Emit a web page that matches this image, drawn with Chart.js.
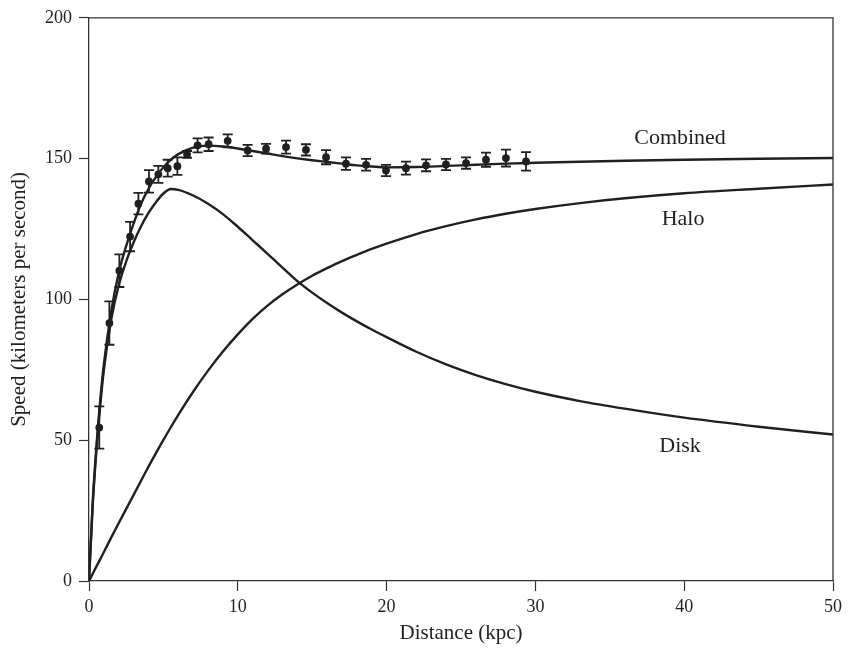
<!DOCTYPE html>
<html>
<head>
<meta charset="utf-8">
<script src="https://cdn.jsdelivr.net/npm/chart.js@4"></script>
<style>
  html, body { margin: 0; padding: 0; background: #fff; }
  #wrap { width: 848px; height: 652px; }
</style>
</head>
<body>
<div id="wrap"><canvas id="rotation"></canvas></div>
<script>
// Radien der Modellkurven (kpc)
const curveR = [0, 0.25, 0.5, 0.75, 1, 1.5, 2, 2.5, 3, 3.5, 4, 4.5, 5, 5.5, 6, 7, 8, 9, 10, 11, 12, 13, 14, 15, 16, 17, 18, 19, 20, 22, 24, 26, 28, 30, 33, 36, 40, 45, 50];
const diskSpeed = [0, 27, 46.5, 62, 75, 93, 105, 113.5, 120.3, 126, 130.7, 134.5, 137.6, 139.2, 138.9, 136.9, 134.0, 130.3, 125.8, 121.0, 116.2, 111.3, 106.5, 102.4, 98.7, 95.3, 92.2, 89.3, 86.6, 81.4, 76.9, 73.1, 69.9, 67.2, 63.9, 61.2, 58.0, 54.8, 52.0];
const haloSpeed = [0, 2.6, 5.2, 7.7, 10.3, 15.5, 20.6, 25.6, 30.6, 35.6, 40.6, 45.4, 50.1, 54.6, 59.0, 67.2, 74.7, 81.5, 87.6, 93.1, 97.8, 101.8, 105.3, 108.4, 111.1, 113.6, 115.8, 117.9, 119.8, 123.2, 126.0, 128.4, 130.4, 132.1, 134.2, 135.9, 137.7, 139.3, 140.8];
const combinedSpeed = [0, 28, 48, 64, 77, 96, 109.5, 119, 127, 134, 139.3, 143.5, 146.9, 149.6, 151.6, 153.9, 154.6, 154.3, 153.6, 152.7, 151.8, 150.9, 150.1, 149.4, 148.8, 148.2, 147.6, 147.2, 146.9, 147.0, 147.4, 147.8, 148.2, 148.5, 148.9, 149.25, 149.6, 149.95, 150.2];

// Messpunkte mit Fehlerbalken
const obsR = [0.69, 1.37, 2.04, 2.76, 3.32, 4.03, 4.66, 5.29, 5.94, 6.59, 7.3, 8.04, 9.32, 10.66, 11.9, 13.24, 14.58, 15.93, 17.27, 18.62, 19.96, 21.3, 22.65, 23.99, 25.34, 26.68, 28.02, 29.37];
const obsSpeed = [54.5, 91.6, 110.2, 122.3, 134.0, 141.9, 144.4, 146.6, 147.3, 151.5, 154.7, 155.1, 156.3, 152.9, 153.5, 154.1, 153.1, 150.5, 148.2, 147.8, 145.8, 146.6, 147.6, 147.9, 148.4, 149.6, 150.2, 149.0];
const obsErr = [7.5, 7.7, 5.8, 5.2, 3.8, 4.0, 3.0, 3.0, 3.1, 1.2, 2.5, 2.4, 2.3, 2.0, 1.7, 2.3, 2.0, 2.5, 2.2, 2.1, 2.0, 2.3, 2.1, 2.0, 2.0, 2.5, 3.0, 3.3];

// Achsen
const xTicks = [0, 10, 20, 30, 40, 50];
const yTicks = [0, 50, 100, 150, 200];

// Kurvenbeschriftungen
const curveNames = ['Combined', 'Halo', 'Disk'];
const curveNameR = [39.72, 39.92, 39.72];
const curveNameSpeed = [157.2, 128.3, 47.7];

const ink = '#231f20';
const serif = 'Liberation Serif';

const toXY = (xs, ys) => xs.map((x, i) => ({ x: x, y: ys[i] }));

function curve(label, values) {
    return {
        label: label,
        data: toXY(curveR, values),
        borderColor: ink,
        borderWidth: 2.4,
        pointRadius: 0,
        cubicInterpolationMode: 'monotone',
        fill: false
    };
}

// Fehlerbalken zeichnen
const errorBars = {
    id: 'errorBars',
    afterDatasetsDraw(chart) {
        const { ctx, scales: { x, y } } = chart;
        ctx.save();
        ctx.strokeStyle = ink;
        ctx.lineWidth = 1.8;
        obsR.forEach((r, i) => {
            const px = x.getPixelForValue(r);
            const top = y.getPixelForValue(obsSpeed[i] + obsErr[i]);
            const bot = y.getPixelForValue(obsSpeed[i] - obsErr[i]);
            ctx.beginPath();
            ctx.moveTo(px, top); ctx.lineTo(px, bot);
            ctx.moveTo(px - 5, top); ctx.lineTo(px + 5, top);
            ctx.moveTo(px - 5, bot); ctx.lineTo(px + 5, bot);
            ctx.stroke();
        });
        ctx.restore();
    }
};

// Rahmen oben/rechts und Beschriftungen
const frameAndNames = {
    id: 'frameAndNames',
    afterDraw(chart) {
        const { ctx, chartArea: a, scales: { x, y } } = chart;
        ctx.save();
        ctx.strokeStyle = '#333';
        ctx.lineWidth = 1.3;
        ctx.beginPath();
        ctx.moveTo(a.left, a.top); ctx.lineTo(a.right, a.top); ctx.lineTo(a.right, a.bottom);
        ctx.stroke();
        ctx.fillStyle = ink;
        ctx.font = '22px "' + serif + '"';
        ctx.textAlign = 'center';
        ctx.textBaseline = 'middle';
        curveNames.forEach((t, i) => {
            ctx.fillText(t, x.getPixelForValue(curveNameR[i]), y.getPixelForValue(curveNameSpeed[i]));
        });
        ctx.restore();
    }
};

new Chart(document.getElementById('rotation'), {
    type: 'line',
    data: {
        datasets: [
            curve('Combined', combinedSpeed),
            curve('Halo', haloSpeed),
            curve('Disk', diskSpeed),
            {
                label: 'Messwerte',
                data: toXY(obsR, obsSpeed),
                showLine: false,
                pointRadius: 3.9,
                pointBackgroundColor: ink,
                pointBorderWidth: 0
            }
        ]
    },
    options: {
        responsive: true,
        maintainAspectRatio: false,
        animation: false,
        layout: { padding: { top: 11, right: 15, left: 0, bottom: 0 } },
        plugins: { legend: { display: false }, tooltip: { enabled: false } },
        scales: {
            x: {
                type: 'linear',
                min: 0,
                max: 50,
                afterBuildTicks: s => { s.ticks = xTicks.map(v => ({ value: v })); },
                afterFit: s => { s.height = 71; },
                ticks: { color: ink, padding: 5, font: { family: serif, size: 18 } },
                grid: { drawOnChartArea: false, tickLength: 10, tickColor: '#333', tickWidth: 1.2 },
                border: { color: '#333', width: 1.3 },
                title: { display: true, text: 'Distance (kpc)', color: ink, font: { family: serif, size: 21 }, padding: { top: 0, bottom: 6 } }
            },
            y: {
                min: 0,
                max: 200,
                afterBuildTicks: s => { s.ticks = yTicks.map(v => ({ value: v })); },
                afterFit: s => { s.width = 89; },
                ticks: { color: ink, padding: 7, font: { family: serif, size: 18 } },
                grid: { drawOnChartArea: false, tickLength: 10, tickColor: '#333', tickWidth: 1.2 },
                border: { color: '#333', width: 1.3 },
                title: { display: true, text: 'Speed (kilometers per second)', color: ink, font: { family: serif, size: 21 }, padding: { top: 7, bottom: 0 } }
            }
        }
    },
    plugins: [errorBars, frameAndNames]
});
</script>
</body>
</html>
